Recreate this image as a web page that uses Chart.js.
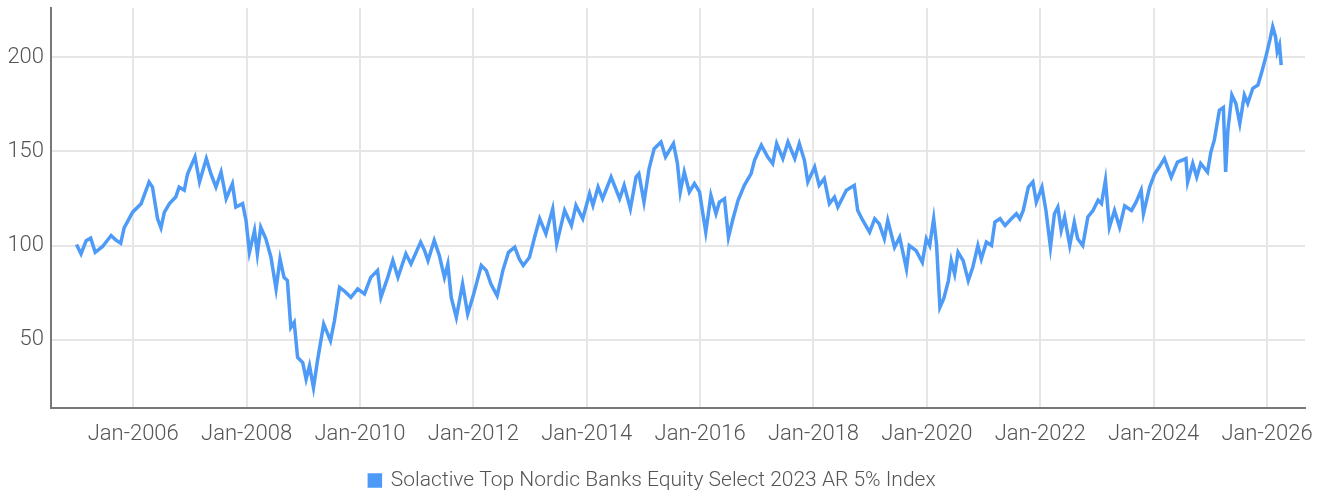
<!DOCTYPE html>
<html>
<head>
<meta charset="utf-8">
<script src="https://cdn.jsdelivr.net/npm/chart.js@4.4.1/dist/chart.umd.min.js"></script>
<style>
  html, body { margin: 0; padding: 0; background: #fff; }
  #wrap { width: 1323px; height: 493px; }
</style>
</head>
<body>
<div id="wrap"><canvas id="myChart"></canvas></div>
<script>
// dates as decimal years
var dates = [
  2005.00, 2005.08, 2005.17, 2005.25, 2005.33, 2005.46, 2005.61, 2005.69, 2005.78, 2005.84, 2005.99,
  2006.14, 2006.28, 2006.34, 2006.43, 2006.49, 2006.55, 2006.64, 2006.75, 2006.81, 2006.90, 2006.96,
  2007.09, 2007.17, 2007.29, 2007.37, 2007.46, 2007.55, 2007.64, 2007.75, 2007.81, 2007.93, 2007.99,
  2008.05, 2008.14, 2008.19, 2008.25, 2008.34, 2008.43, 2008.52, 2008.59, 2008.66, 2008.72, 2008.78, 2008.84, 2008.90, 2008.99,
  2009.05, 2009.11, 2009.18, 2009.25, 2009.36, 2009.48, 2009.55, 2009.64, 2009.72, 2009.84, 2009.96,
  2010.08, 2010.19, 2010.31, 2010.37, 2010.49, 2010.58, 2010.67, 2010.81, 2010.90,
  2011.07, 2011.14, 2011.20, 2011.31, 2011.40, 2011.49, 2011.55, 2011.61, 2011.70, 2011.81, 2011.90, 2011.99,
  2012.14, 2012.23, 2012.31, 2012.42, 2012.52, 2012.62, 2012.73, 2012.81, 2012.88, 2012.99,
  2013.08, 2013.17, 2013.28, 2013.40, 2013.47, 2013.61, 2013.73, 2013.81, 2013.93,
  2014.05, 2014.11, 2014.20, 2014.28, 2014.43, 2014.58, 2014.66, 2014.77, 2014.87, 2014.92,
  2015.01, 2015.10, 2015.19, 2015.31, 2015.39, 2015.53, 2015.60, 2015.65, 2015.72, 2015.81, 2015.90, 2015.99,
  2016.04, 2016.10, 2016.19, 2016.28, 2016.34, 2016.43, 2016.50, 2016.58, 2016.67, 2016.78, 2016.90, 2016.96,
  2017.08, 2017.19, 2017.28, 2017.35, 2017.46, 2017.55, 2017.67, 2017.75, 2017.84, 2017.90,
  2018.02, 2018.10, 2018.19, 2018.28, 2018.37, 2018.43, 2018.58, 2018.72, 2018.78, 2018.87, 2018.99,
  2019.08, 2019.16, 2019.25, 2019.31, 2019.43, 2019.52, 2019.64, 2019.69, 2019.81, 2019.92, 2019.99,
  2020.05, 2020.12, 2020.17, 2020.23, 2020.30, 2020.38, 2020.43, 2020.49, 2020.55, 2020.64, 2020.73, 2020.81, 2020.90, 2020.96,
  2021.05, 2021.14, 2021.20, 2021.29, 2021.38, 2021.49, 2021.58, 2021.64, 2021.70, 2021.79, 2021.87, 2021.93,
  2022.03, 2022.10, 2022.18, 2022.25, 2022.31, 2022.37, 2022.43, 2022.52, 2022.60, 2022.66, 2022.75, 2022.84, 2022.93,
  2023.02, 2023.08, 2023.15, 2023.22, 2023.31, 2023.40, 2023.49, 2023.61, 2023.69, 2023.78, 2023.82, 2023.93,
  2024.02, 2024.10, 2024.19, 2024.31, 2024.42, 2024.57, 2024.60, 2024.69, 2024.76, 2024.83, 2024.95,
  2025.01, 2025.07, 2025.16, 2025.23, 2025.27, 2025.31, 2025.38, 2025.45, 2025.52, 2025.60, 2025.66, 2025.75, 2025.84, 2025.90, 2025.98,
  2026.05, 2026.10, 2026.15, 2026.18, 2026.22, 2026.25
];
var values = [
  100.5, 95.6, 102.6, 103.9, 96.4, 99.5, 105.3, 103.0, 101.2, 109.4, 117.7,
  122.2, 133.7, 131.0, 114.2, 109.4, 117.7, 122.2, 125.7, 131.0, 129.3, 138.1,
  147.0, 133.7, 146.1, 138.1, 131.0, 139.0, 124.8, 132.8, 120.4, 122.2, 113.3,
  96.4, 108.0, 95.6, 109.7, 103.6, 93.8, 77.0, 92.9, 83.1, 81.4, 56.5, 59.2, 40.6, 37.9,
  29.1, 36.2, 24.6, 38.8, 58.3, 49.5, 60.1, 77.8, 76.0, 72.5, 77.0,
  74.3, 83.1, 86.7, 72.5, 83.1, 92.0, 83.1, 95.6, 90.2,
  101.8, 97.3, 92.0, 102.7, 94.7, 83.1, 90.2, 72.5, 61.9, 79.6, 63.7, 72.5,
  89.4, 86.7, 79.6, 73.4, 86.7, 96.4, 99.1, 92.9, 89.4, 93.8,
  104.4, 114.2, 106.2, 119.5, 100.9, 118.6, 110.6, 121.3, 114.2,
  127.5, 121.3, 131.0, 124.8, 136.3, 124.8, 131.9, 119.5, 136.3, 138.1,
  123.0, 140.8, 151.4, 154.9, 147.0, 154.1, 143.5, 128.4, 139.0, 128.4, 132.8, 128.4,
  118.6, 107.1, 126.6, 116.9, 123.0, 124.8, 104.4, 114.2, 124.0, 131.9, 138.1, 145.2,
  153.2, 147.0, 143.5, 154.1, 146.1, 154.9, 146.1, 154.1, 145.2, 133.7,
  141.6, 131.9, 135.5, 122.2, 125.7, 120.4, 129.3, 131.9, 118.6, 113.3, 107.1,
  114.2, 111.5, 103.6, 113.3, 99.1, 104.4, 87.6, 100.0, 97.3, 91.1, 103.6,
  100.0, 114.2, 100.9, 67.2, 72.0, 81.4, 92.0, 84.9, 96.4, 92.0, 81.4, 88.5, 100.0, 92.9,
  101.8, 100.0, 112.4, 114.2, 110.6, 114.2, 116.9, 114.2, 118.6, 131.0, 133.7, 123.0,
  131.0, 118.6, 99.1, 116.9, 120.4, 108.0, 115.1, 100.0, 112.4, 103.6, 100.0, 115.1, 118.6,
  124.0, 122.2, 134.6, 109.7, 118.6, 109.7, 121.0, 118.6, 123.0, 129.3, 116.9, 131.0,
  138.1, 141.6, 146.1, 136.3, 144.3, 146.1, 133.7, 143.5, 136.3, 143.5, 139.0,
  149.6, 155.9, 171.8, 173.2, 139.0, 161.2, 179.8, 175.4, 164.7, 179.8, 175.4, 183.4, 185.1, 191.3, 200.2,
  209.0, 216.1, 210.8, 202.8, 206.4, 195.7
];
var xTicks = [2006, 2008, 2010, 2012, 2014, 2016, 2018, 2020, 2022, 2024, 2026];
var yTicks = [50, 100, 150, 200];
var seriesName = "Solactive Top Nordic Banks Equity Select 2023 AR 5% Index";

window.onload = function() {
  var points = [];
  dates.forEach(function(d, i) {
    points.push({ x: d, y: values[i] });
  });

  var fontFamily = "Roboto, 'DejaVu Sans Condensed', sans-serif";
  var ctx = document.getElementById("myChart").getContext("2d");
  var chart = new Chart(ctx, {
    type: "line",
    data: {
      datasets: [
        {
          label: seriesName,
          data: points,
          borderColor: "rgb(77, 154, 247)",
          backgroundColor: "rgb(77, 154, 247)",
          borderWidth: 3.5,
          pointRadius: 0,
          tension: 0
        }
      ]
    },
    options: {
      responsive: true,
      maintainAspectRatio: false,
      animation: false,
      layout: { autoPadding: false, padding: { top: 8, right: 18, bottom: -8, left: 0 } },
      plugins: {
        tooltip: { enabled: false },
        legend: {
          position: "bottom",
          labels: {
            color: "#555",
            font: { family: fontFamily, size: 21, weight: 300 },
            boxWidth: 11,
            boxHeight: 11,
            padding: 4
          }
        }
      },
      scales: {
        x: {
          type: "linear",
          min: 2004.55,
          max: 2026.67,
          afterBuildTicks: function(scale) {
            scale.ticks = xTicks.map(function(v) { return { value: v }; });
          },
          afterFit: function(scale) {
            scale.height = 58;
            scale.paddingLeft = 0;
            scale.paddingRight = 0;
          },
          grid: { color: "#e6e6e6", lineWidth: 2, drawTicks: false },
          border: { color: "#777", width: 2 },
          ticks: {
            color: "#555",
            padding: 13,
            maxRotation: 0,
            font: { family: fontFamily, size: 22, weight: 300 },
            callback: function(v) { return "Jan-" + v; }
          }
        },
        y: {
          min: 13.8,
          max: 226,
          afterBuildTicks: function(scale) {
            scale.ticks = yTicks.map(function(v) { return { value: v }; });
          },
          afterFit: function(scale) {
            scale.width = 51;
            scale.paddingTop = 0;
            scale.paddingBottom = 0;
          },
          grid: { color: "#e6e6e6", lineWidth: 2, drawTicks: false },
          border: { color: "#777", width: 2 },
          ticks: {
            color: "#555",
            padding: 7,
            font: { family: fontFamily, size: 22, weight: 300 }
          }
        }
      }
    }
  });
};
</script>
</body>
</html>
